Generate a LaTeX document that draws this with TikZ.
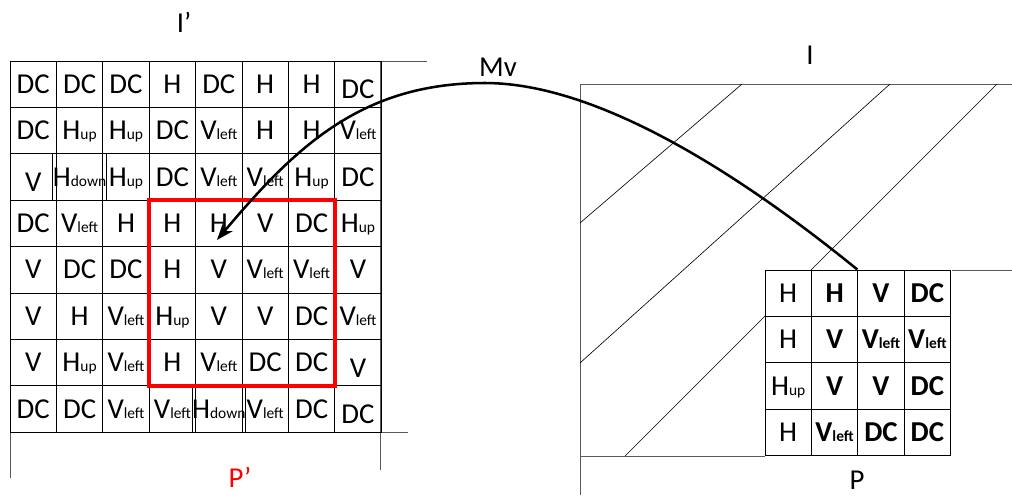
\documentclass[tikz,border=0pt]{standalone}
\usepackage{fontspec}
\setmainfont{Carlito}
\usetikzlibrary{arrows.meta}

\newcommand{\sbs}[1]{{\fontsize{11}{12}\selectfont #1}}
\newcommand{\lowr}[1]{\raisebox{-4pt}{#1}}

\tikzset{
  cell/.style={draw, line width=0.6pt, inner sep=0pt,
    minimum width=1.16cm, minimum height=1.16cm,
    text height=13pt, text depth=0pt, font=\fontsize{20.5}{22}\selectfont},
  lbl/.style={inner sep=0pt, text height=13pt, text depth=0pt,
    font=\fontsize{20.5}{22}\selectfont},
  frame/.style={draw=black!65, line width=0.5pt},
  hatch/.style={draw=black, line width=0.45pt},
  pbox/.style={draw=red, line width=2.8pt},
  mvarrow/.style={draw=black, line width=1.8pt, -{Stealth[length=12pt, width=9pt]}}
}

\begin{document}
\begin{tikzpicture}[x=0.025cm, y=0.025cm]
\useasboundingbox (0,0) rectangle (1012,-495);

% image I' and its borders
\draw[frame] (427,-61) -- (10,-61) -- (10,-478);
\draw[frame] (380,-61) -- (380,-470);
\draw[frame] (10,-432) -- (408,-432);

% image I with the hatching
\draw[frame] (1012,-84) -- (580,-84) -- (580,-495);
\draw[frame] (580,-456) -- (765,-456);
\draw[frame] (952,-270) -- (1012,-270);
\draw[hatch] (580,-223) -- (742,-84);
\draw[hatch] (580,-363) -- (890,-84);
\draw[hatch] (625,-456) -- (997,-84);

% grid of I'
\foreach \row [count=\r] in {
  {DC,DC,DC,H,DC,H,H,\lowr{DC}},
  {DC,H\sbs{up},H\sbs{up},DC,V\sbs{left},H,H,V\sbs{left}},
  {\lowr{V},H\sbs{down},H\sbs{up},DC,V\sbs{left},V\sbs{left},H\sbs{up},DC},
  {DC,V\sbs{left},H,H,H,V,DC,H\sbs{up}},
  {V,DC,DC,H,V,V\sbs{left},V\sbs{left},V},
  {V,H,V\sbs{left},H\sbs{up},V,V,DC,V\sbs{left}},
  {V,H\sbs{up},V\sbs{left},H,V\sbs{left},DC,DC,\lowr{V}},
  {DC,DC,V\sbs{left},V\sbs{left},H\sbs{down},V\sbs{left},DC,\lowr{DC}}} {
  \foreach \txt [count=\c] in \row {
    \node[cell] (l-\r-\c) at ({10+46.4*(\c-0.5)}, {-61-46.4*(\r-0.5)}) {\txt};
  }
}

% grid of P
\foreach \row [count=\r] in {
  {H,H,V,DC},
  {H,V,V\sbs{left},V\sbs{left}},
  {H\sbs{up},V,V,DC},
  {H,V\sbs{left},DC,DC}} {
  \foreach \txt [count=\c] in \row {
    \node[cell, fill=white] (r-\r-\c) at ({765+46.4*(\c-0.5)}, {-270-46.4*(\r-0.5)})
      {\ifnum\c>1 \bfseries\fi\txt};
  }
}

% window P'
\draw[pbox] (l-4-4.north west) rectangle (l-7-7.south east);

% labels
\node[lbl] (iprime) at (184,-23) {I’};
\node[lbl, red] (pprime) at (240,-478) {P’};
\node[lbl] (mv) at (498,-67) {Mv};
\node[lbl] (ilab) at (810,-55) {I};
\node[lbl] (plab) at (857,-480) {P};

% motion vector
\coordinate (peak) at (485,-83);
\coordinate (tip) at (217,-240);
\draw[mvarrow] (r-1-3.north west) .. controls +(-102,83) and +(120,0) .. (peak)
  .. controls +(-123,0) and +(79,94) .. (tip);
\end{tikzpicture}
\end{document}
